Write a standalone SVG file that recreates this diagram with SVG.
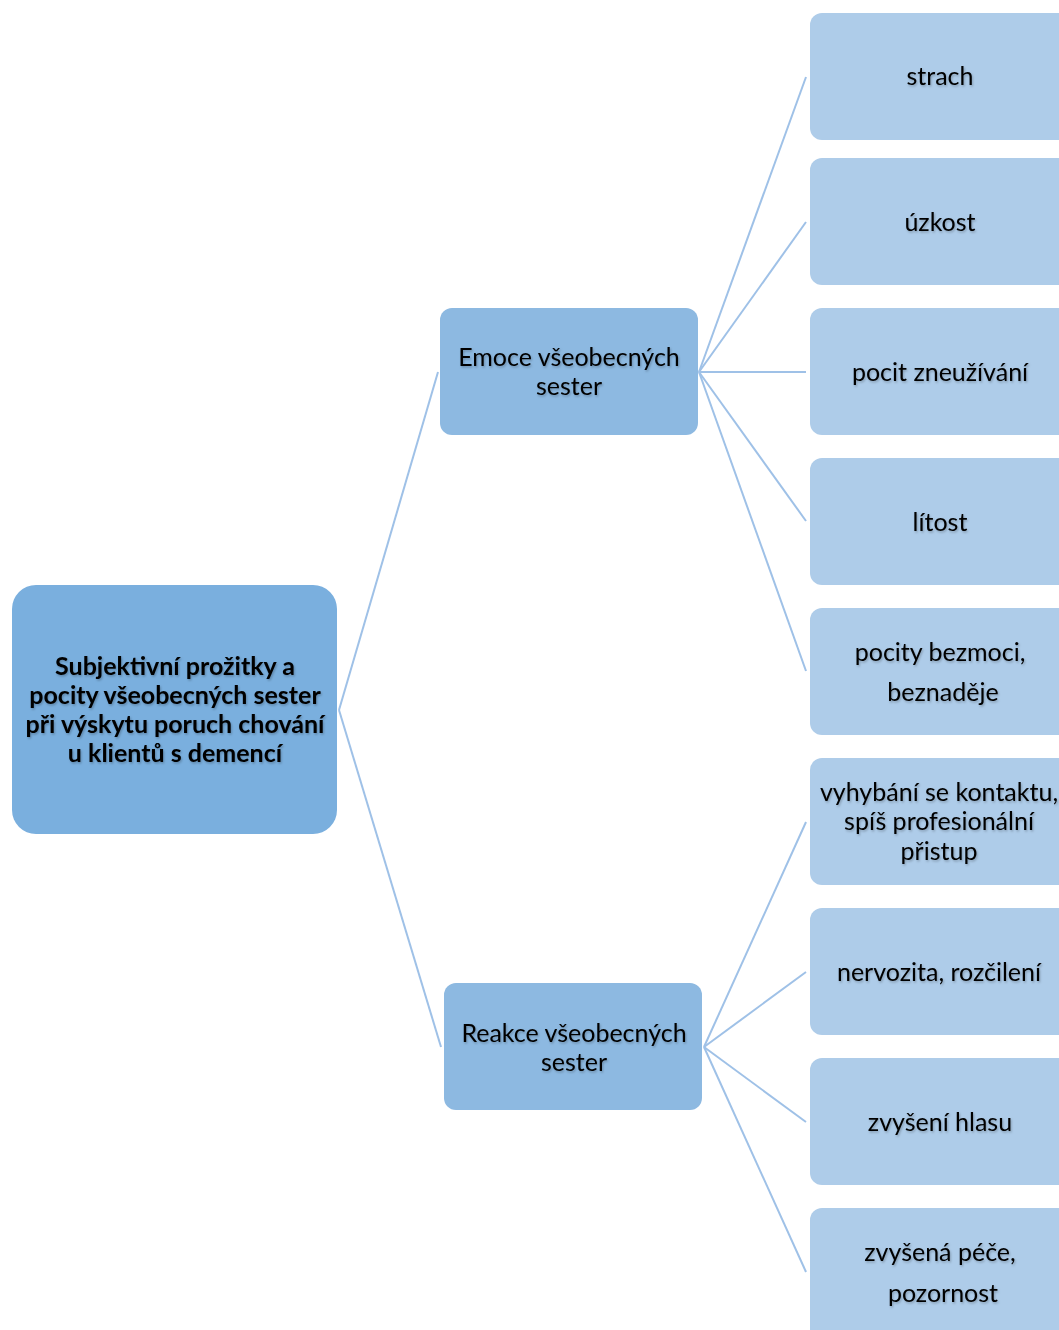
<svg xmlns="http://www.w3.org/2000/svg" width="1059" height="1330" viewBox="0 0 1059 1330">
<style>
.root{fill:#7aafde}
.mid{fill:#8db9e1}
.leaf{fill:#aecce9}
text{font-family:Lato,"Open Sans","Liberation Sans",sans-serif;font-size:25px;fill:#000;text-anchor:middle;dominant-baseline:central}
.b{font-weight:bold}
.c{stroke:#9fc1e7;stroke-width:2;fill:none}
</style>
<defs>
<filter id="sh" x="-10%" y="-10%" width="120%" height="130%">
<feDropShadow dx="1" dy="1.5" stdDeviation="0.8" flood-color="#000" flood-opacity="0.25"/>
</filter>
</defs>
<g id="connectors">
<line class="c" x1="339" y1="710" x2="438" y2="372"/>
<line class="c" x1="339" y1="710" x2="441" y2="1047"/>
<line class="c" x1="699" y1="372" x2="806" y2="77"/>
<line class="c" x1="699" y1="372" x2="806" y2="222"/>
<line class="c" x1="699" y1="372" x2="806" y2="372"/>
<line class="c" x1="699" y1="372" x2="806" y2="521"/>
<line class="c" x1="699" y1="372" x2="806" y2="671"/>
<line class="c" x1="704" y1="1047" x2="806" y2="822"/>
<line class="c" x1="704" y1="1047" x2="806" y2="972"/>
<line class="c" x1="704" y1="1047" x2="806" y2="1122"/>
<line class="c" x1="704" y1="1047" x2="806" y2="1272"/>
</g>
<g id="root-node">
<rect class="root" x="12" y="585" width="325" height="249" rx="24"/>
<g filter="url(#sh)">
<text class="b" x="175" y="665">Subjektivní prožitky a</text>
<text class="b" x="175" y="694">pocity všeobecných sester</text>
<text class="b" x="175" y="723">při výskytu poruch chování</text>
<text class="b" x="175" y="752">u klientů s demencí</text>
</g>
</g>
<g id="emoce">
<rect class="mid" x="440" y="308" width="258" height="127" rx="12"/>
<g filter="url(#sh)"><text x="569" y="356">Emoce všeobecných</text><text x="569" y="385">sester</text></g>
</g>
<g id="reakce">
<rect class="mid" x="444" y="983" width="258" height="127" rx="12"/>
<g filter="url(#sh)"><text x="574" y="1032">Reakce všeobecných</text><text x="574" y="1061">sester</text></g>
</g>
<g id="strach"><rect class="leaf" x="810" y="13" width="262" height="127" rx="12"/><g filter="url(#sh)"><text x="940" y="75">strach</text></g></g>
<g id="uzkost"><rect class="leaf" x="810" y="158" width="262" height="127" rx="12"/><g filter="url(#sh)"><text x="940" y="221">úzkost</text></g></g>
<g id="zneuzivani"><rect class="leaf" x="810" y="308" width="262" height="127" rx="12"/><g filter="url(#sh)"><text x="940" y="371">pocit zneužívání</text></g></g>
<g id="litost"><rect class="leaf" x="810" y="458" width="262" height="127" rx="12"/><g filter="url(#sh)"><text x="940" y="521">lítost</text></g></g>
<g id="bezmoc"><rect class="leaf" x="810" y="608" width="262" height="127" rx="12"/><g filter="url(#sh)"><text x="940" y="651">pocity bezmoci,</text><text x="943" y="691">beznaděje</text></g></g>
<g id="vyhybani"><rect class="leaf" x="810" y="758" width="262" height="127" rx="12"/><g filter="url(#sh)"><text x="939" y="791">vyhybání se kontaktu,</text><text x="939" y="820">spíš profesionální</text><text x="939" y="850">přistup</text></g></g>
<g id="nervozita"><rect class="leaf" x="810" y="908" width="262" height="127" rx="12"/><g filter="url(#sh)"><text x="939" y="971">nervozita, rozčilení</text></g></g>
<g id="hlas"><rect class="leaf" x="810" y="1058" width="262" height="127" rx="12"/><g filter="url(#sh)"><text x="940" y="1121">zvyšení hlasu</text></g></g>
<g id="pece"><rect class="leaf" x="810" y="1208" width="262" height="140" rx="12"/><g filter="url(#sh)"><text x="940" y="1251">zvyšená péče,</text><text x="943" y="1292">pozornost</text></g></g>
</svg>
